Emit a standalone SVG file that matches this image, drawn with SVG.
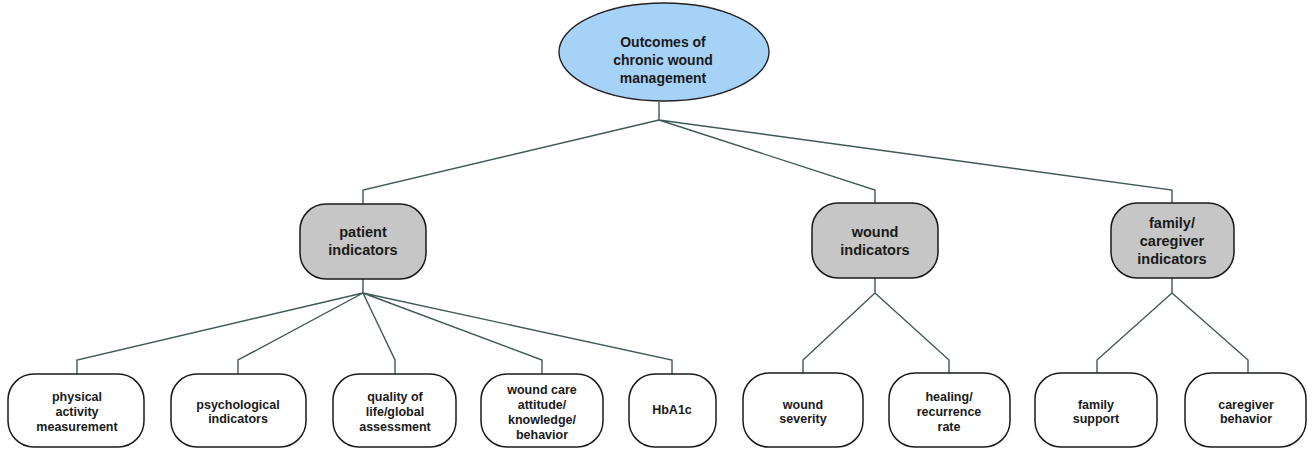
<svg xmlns="http://www.w3.org/2000/svg" width="1312" height="449" viewBox="0 0 1312 449">
<style>
.c{fill:none;stroke:#3f5858;stroke-width:1.4}
.top{fill:#a7d2f8;stroke:#222;stroke-width:1.4}
.mid{fill:#c6c6c6;stroke:#1a1a1a;stroke-width:1.5}
.leaf{fill:#fff;stroke:#1a1a1a;stroke-width:1.5}
text{font-family:"Liberation Sans",Arial,sans-serif;font-weight:bold;fill:#1a1a1a;text-anchor:middle}
.t1{font-size:14px}
.t2{font-size:14.5px}
.t3{font-size:12.5px}
</style>
<rect width="1312" height="449" fill="#fff"/>
<g id="connectors">
<path class="c" d="M659,102 V120 M659,120 L363,190 V204 M659,120 L875,190 V203 M659,120 L1172,190 V203"/>
<path class="c" d="M363,279 V293 M363,293 L77,360 V374 M363,293 L238,360 V374 M363,293 L395,360 V374 M363,293 L542,360 V374 M363,293 L672,360 V374"/>
<path class="c" d="M875,278 V293 L803,360 V373 M875,293 L949,360 V373"/>
<path class="c" d="M1172,278 V293 L1097,360 V373 M1172,293 L1248,360 V373"/>
</g>
<g id="n-root">
<ellipse class="top" cx="664" cy="52" rx="105" ry="49"/>
<text class="t1" x="663" y="47">Outcomes of</text>
<text class="t1" x="663" y="65">chronic wound</text>
<text class="t1" x="663" y="83">management</text>
</g>
<g id="n-patient">
<rect class="mid" x="300" y="204" width="126" height="75" rx="26"/>
<text class="t2" x="363" y="237">patient</text>
<text class="t2" x="363" y="255">indicators</text>
</g>
<g id="n-wound">
<rect class="mid" x="812" y="203" width="126" height="75" rx="26"/>
<text class="t2" x="875" y="237">wound</text>
<text class="t2" x="875" y="255">indicators</text>
</g>
<g id="n-family">
<rect class="mid" x="1111" y="203" width="123" height="75" rx="26"/>
<text class="t2" x="1172" y="228">family/</text>
<text class="t2" x="1172" y="246">caregiver</text>
<text class="t2" x="1172" y="264">indicators</text>
</g>
<g id="n-physical">
<rect class="leaf" x="8" y="374" width="136" height="73" rx="26"/>
<text class="t3" x="77" y="401">physical</text>
<text class="t3" x="77" y="415.5">activity</text>
<text class="t3" x="77" y="430.5">measurement</text>
</g>
<g id="n-psych">
<rect class="leaf" x="171" y="374" width="135" height="73" rx="26"/>
<text class="t3" x="238" y="409">psychological</text>
<text class="t3" x="238" y="423">indicators</text>
</g>
<g id="n-qol">
<rect class="leaf" x="333" y="374" width="123" height="73" rx="26"/>
<text class="t3" x="395" y="401">quality of</text>
<text class="t3" x="395" y="415.5">life/global</text>
<text class="t3" x="395" y="430.5">assessment</text>
</g>
<g id="n-woundcare">
<rect class="leaf" x="481" y="374" width="122" height="73" rx="26"/>
<text class="t3" x="542" y="394">wound care</text>
<text class="t3" x="542" y="409">attitude/</text>
<text class="t3" x="542" y="423.5">knowledge/</text>
<text class="t3" x="542" y="438.5">behavior</text>
</g>
<g id="n-hba1c">
<rect class="leaf" x="629" y="374" width="87" height="73" rx="26"/>
<text class="t3" x="672" y="414">HbA1c</text>
</g>
<g id="n-severity">
<rect class="leaf" x="743" y="373" width="120" height="74" rx="26"/>
<text class="t3" x="803" y="409">wound</text>
<text class="t3" x="803" y="423">severity</text>
</g>
<g id="n-healing">
<rect class="leaf" x="889" y="373" width="121" height="74" rx="26"/>
<text class="t3" x="949" y="401">healing/</text>
<text class="t3" x="949" y="415.5">recurrence</text>
<text class="t3" x="949" y="430.5">rate</text>
</g>
<g id="n-support">
<rect class="leaf" x="1035" y="373" width="122" height="74" rx="26"/>
<text class="t3" x="1096" y="409">family</text>
<text class="t3" x="1096" y="423">support</text>
</g>
<g id="n-caregiver">
<rect class="leaf" x="1185" y="373" width="121" height="74" rx="26"/>
<text class="t3" x="1246" y="409">caregiver</text>
<text class="t3" x="1246" y="423">behavior</text>
</g>
</svg>
